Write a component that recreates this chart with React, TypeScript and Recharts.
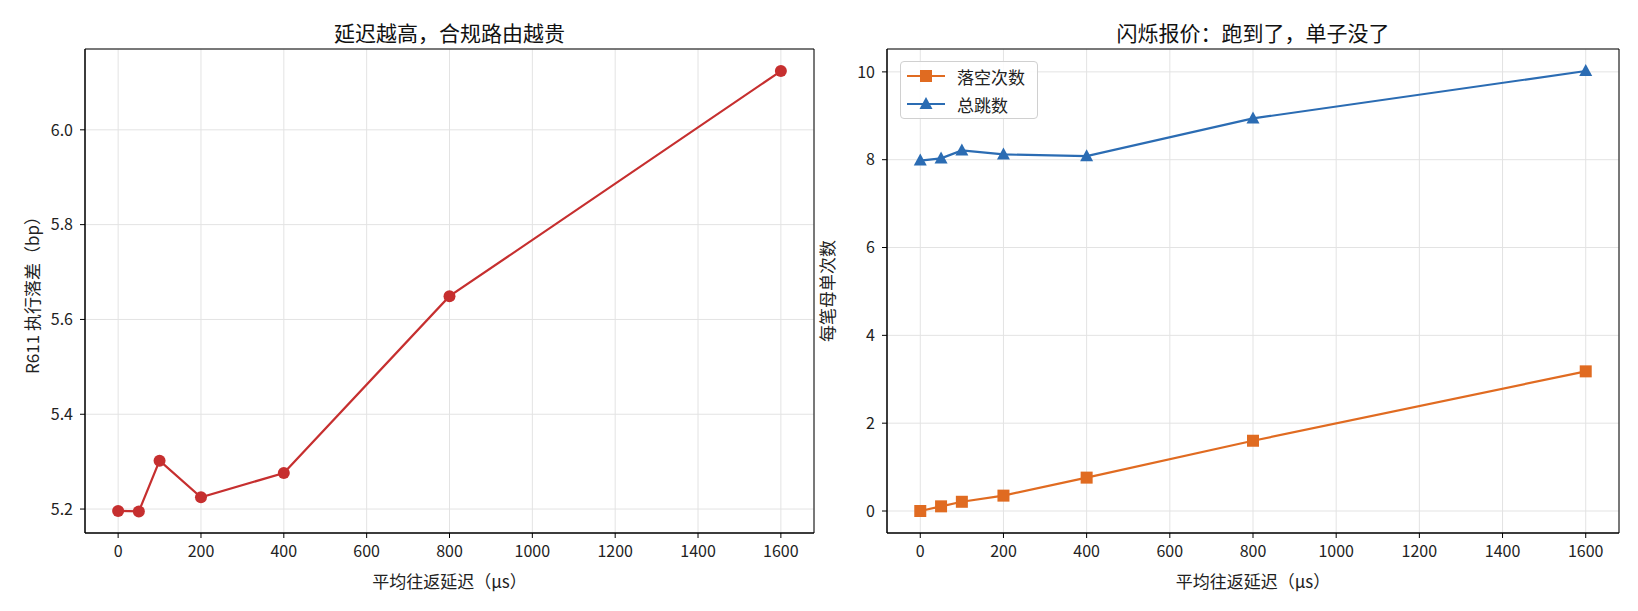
import React from "react";
import {
  LineChart,
  Line,
  XAxis,
  YAxis,
  CartesianGrid,
  Legend,
  Label,
  ReferenceArea,
} from "recharts";

// 平均往返延迟 (μs)
const latency = [0, 50, 100, 200, 400, 800, 1600];
// R611 执行落差 (bp)
const slippage = [5.196, 5.195, 5.302, 5.225, 5.276, 5.649, 6.124];
// 每笔母单次数
const misses = [0, 0.106, 0.21, 0.35, 0.76, 1.6, 3.18];
const hops = [7.98, 8.03, 8.21, 8.12, 8.08, 8.94, 10.02];

const xTicks = [0, 200, 400, 600, 800, 1000, 1200, 1400, 1600];
const leftTicks = [5.2, 5.4, 5.6, 5.8, 6.0];
const rightTicks = [0, 2, 4, 6, 8, 10];

const FONT = '"Noto Sans CJK SC", "Noto Sans", sans-serif';
const RED = "#c62f2f";
const ORANGE = "#e06b21";
const BLUE = "#2b6cb3";
const GRID = "#e3e3e3";
const X_DOMAIN: [number, number] = [-80, 1680];
const LEFT_DOMAIN: [number, number] = [5.1495, 6.1705];
const RIGHT_DOMAIN: [number, number] = [-0.501, 10.521];

const leftData = latency.map((x, i) => ({ latency: x, slippage: slippage[i] }));
const rightData = latency.map((x, i) => ({
  latency: x,
  misses: misses[i],
  hops: hops[i],
}));

const tickStyle = { fontSize: 16, fill: "#222", fontFamily: FONT };
const labelStyle = { fontSize: 17, fill: "#222", fontFamily: FONT };

function YLabel({ viewBox, value, dx }: any) {
  const x = viewBox.x + dx;
  const y = viewBox.y + viewBox.height / 2;
  return (
    <text
      x={x}
      y={y}
      transform={`rotate(-90 ${x} ${y})`}
      textAnchor="middle"
      dominantBaseline="central"
      fontSize={17}
      fontFamily={FONT}
      fill="#222"
    >
      {value}
    </text>
  );
}

function SquareDot(props: any) {
  const { cx, cy, index } = props;
  if (cx == null || cy == null) return null;
  return <rect key={`sq-${index}`} x={cx - 6} y={cy - 6} width={12} height={12} fill={ORANGE} />;
}

function TriangleDot(props: any) {
  const { cx, cy, index } = props;
  if (cx == null || cy == null) return null;
  const pts = `${cx},${cy - 7} ${cx - 6.5},${cy + 5} ${cx + 6.5},${cy + 5}`;
  return <polygon key={`tr-${index}`} points={pts} fill={BLUE} />;
}

function LegendBox() {
  const items = [
    { name: "落空次数", color: ORANGE, shape: "square" },
    { name: "总跳数", color: BLUE, shape: "triangle" },
  ];
  return (
    <div
      style={{
        border: "1px solid #d0d0d0",
        borderRadius: 4,
        background: "rgba(255,255,255,0.85)",
        padding: "0px 12px 0px 6px",
        fontFamily: FONT,
        fontSize: 17,
        color: "#222",
      }}
    >
      {items.map((it) => (
        <div key={it.name} style={{ display: "flex", alignItems: "center", height: 28 }}>
          <svg width={38} height={14} style={{ marginRight: 12 }}>
            <line x1={0} y1={7} x2={38} y2={7} stroke={it.color} strokeWidth={2} />
            {it.shape === "square" ? (
              <rect x={13} y={1} width={12} height={12} fill={it.color} />
            ) : (
              <polygon points="19,0 12.5,12 25.5,12" fill={it.color} />
            )}
          </svg>
          <span>{it.name}</span>
        </div>
      ))}
    </div>
  );
}

const titleStyle = (center: number): React.CSSProperties => ({
  position: "absolute",
  top: 17,
  left: center - 250,
  width: 500,
  textAlign: "center",
  fontSize: 21,
  lineHeight: "30px",
  fontFamily: FONT,
  color: "#111",
});

export default function App() {
  return (
    <div
      style={{
        position: "absolute",
        left: 0,
        top: 0,
        width: 1638,
        height: 611,
        background: "#fff",
        fontFamily: FONT,
      }}
    >
      <div style={titleStyle(449.5)}>延迟越高，合规路由越贵</div>
      <div style={titleStyle(1253)}>闪烁报价：跑到了，单子没了</div>

      <div style={{ position: "absolute", left: 0, top: 0 }}>
        <LineChart
          width={815}
          height={611}
          data={leftData}
          margin={{ top: 49, right: 1, bottom: 28, left: 0 }}
        >
          <CartesianGrid stroke={GRID} />
          <XAxis
            dataKey="latency"
            type="number"
            domain={X_DOMAIN}
            ticks={xTicks}
            allowDataOverflow
            height={50}
            tick={tickStyle}
            tickSize={5}
            tickMargin={8}
            axisLine={{ stroke: "#000" }}
            tickLine={{ stroke: "#000" }}
          >
            <Label value="平均往返延迟（μs）" position="insideBottom" offset={-5} style={labelStyle} />
          </XAxis>
          <YAxis
            type="number"
            domain={LEFT_DOMAIN}
            ticks={leftTicks}
            allowDataOverflow
            width={85}
            tick={tickStyle}
            tickSize={5}
            tickMargin={7}
            tickFormatter={(v: number) => v.toFixed(1)}
            axisLine={{ stroke: "#000" }}
            tickLine={{ stroke: "#000" }}
          >
            <Label content={<YLabel value="R611 执行落差（bp）" dx={31} />} />
          </YAxis>
          <ReferenceArea
            x1={X_DOMAIN[0]}
            x2={X_DOMAIN[1]}
            y1={LEFT_DOMAIN[0]}
            y2={LEFT_DOMAIN[1]}
            fill="none"
            fillOpacity={0}
            stroke="#000"
            strokeWidth={1}
          />
          <Line
            dataKey="slippage"
            stroke={RED}
            strokeWidth={2.2}
            dot={{ r: 6, fill: RED, stroke: RED, strokeWidth: 0 }}
            activeDot={false}
            isAnimationActive={false}
          />
        </LineChart>
      </div>

      <div style={{ position: "absolute", left: 815, top: 0 }}>
        <LineChart
          width={823}
          height={611}
          data={rightData}
          margin={{ top: 49, right: 19, bottom: 28, left: 0 }}
        >
          <CartesianGrid stroke={GRID} />
          <XAxis
            dataKey="latency"
            type="number"
            domain={X_DOMAIN}
            ticks={xTicks}
            allowDataOverflow
            height={50}
            tick={tickStyle}
            tickSize={5}
            tickMargin={8}
            axisLine={{ stroke: "#000" }}
            tickLine={{ stroke: "#000" }}
          >
            <Label value="平均往返延迟（μs）" position="insideBottom" offset={-5} style={labelStyle} />
          </XAxis>
          <YAxis
            type="number"
            domain={RIGHT_DOMAIN}
            ticks={rightTicks}
            allowDataOverflow
            width={72}
            tick={tickStyle}
            tickSize={5}
            tickMargin={7}
            axisLine={{ stroke: "#000" }}
            tickLine={{ stroke: "#000" }}
          >
            <Label content={<YLabel value="每笔母单次数" dx={11} />} />
          </YAxis>
          <ReferenceArea
            x1={X_DOMAIN[0]}
            x2={X_DOMAIN[1]}
            y1={RIGHT_DOMAIN[0]}
            y2={RIGHT_DOMAIN[1]}
            fill="none"
            fillOpacity={0}
            stroke="#000"
            strokeWidth={1}
          />
          <Legend
            content={<LegendBox />}
            layout="horizontal"
            verticalAlign="middle"
            align="center"
            wrapperStyle={{ top: 61, left: 85, width: "auto", height: "auto" }}
          />
          <Line
            dataKey="misses"
            name="落空次数"
            stroke={ORANGE}
            strokeWidth={2.2}
            dot={<SquareDot />}
            activeDot={false}
            isAnimationActive={false}
          />
          <Line
            dataKey="hops"
            name="总跳数"
            stroke={BLUE}
            strokeWidth={2.2}
            dot={<TriangleDot />}
            activeDot={false}
            isAnimationActive={false}
          />
        </LineChart>
      </div>
    </div>
  );
}
